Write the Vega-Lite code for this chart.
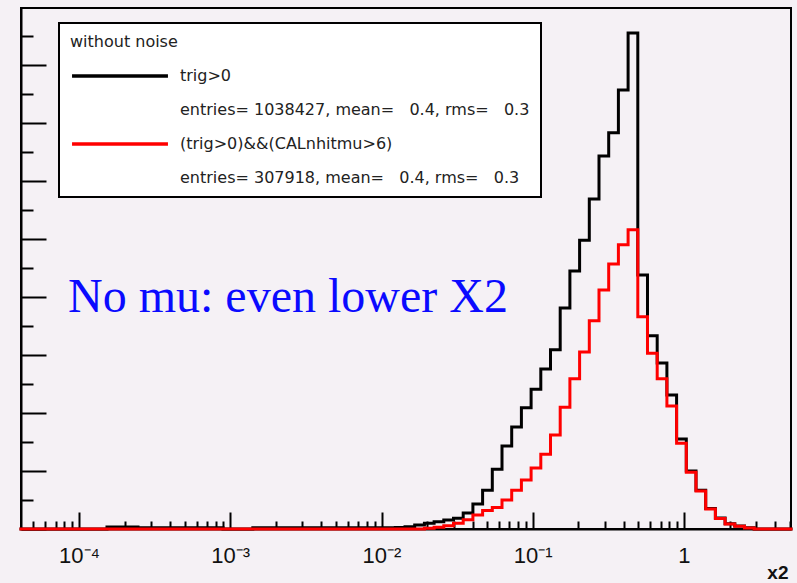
{
  "$schema": "https://vega.github.io/schema/vega-lite/v6.json",
  "width": 770,
  "height": 521,
  "autosize": "none",
  "padding": {"left": 21, "top": 8, "right": 6, "bottom": 54},
  "background": "#f5f1f5",
  "config": {
    "view": {"stroke": "#000000", "strokeWidth": 2, "fill": "#f5f1f5"},
    "axisX": {
      "values": [0.00005, 0.00006, 0.00007, 0.00008, 0.00009, 0.0001, 0.0002, 0.0003, 0.0004, 0.0005, 0.0006, 0.0007, 0.0008, 0.0009, 0.001, 0.002, 0.003, 0.004, 0.005, 0.006, 0.007, 0.008, 0.009, 0.01, 0.02, 0.03, 0.04, 0.05, 0.06, 0.07, 0.08, 0.09, 0.1, 0.2, 0.3, 0.4, 0.5, 0.6, 0.7, 0.8, 0.9, 1, 2, 3, 4, 5],
      "tickWidth": 2,
      "tickColor": "#000000",
      "domainColor": "#000000",
      "domainWidth": 2,
      "grid": false,
      "labelFont": "Liberation Sans",
      "labelFontSize": 22,
      "labelColor": "#111111",
      "labelPadding": 33,
      "labelFlush": false,
      "labelOverlap": false,
      "titleFont": "Liberation Sans",
      "titleFontSize": 19,
      "titleFontWeight": "bold",
      "titleColor": "#111111",
      "titleAnchor": "end",
      "titleAlign": "right",
      "titleBaseline": "alphabetic",
      "titleX": 767,
      "titleY": 49
    },
    "axisY": {
      "values": [0, 2000, 4000, 6000, 8000, 10000, 12000, 14000, 16000, 18000, 20000, 22000, 24000, 26000, 28000, 30000, 32000, 34000, 36000, 38000, 40000, 42000, 44000, 46000, 48000, 50000, 52000, 54000, 56000, 58000, 60000, 62000, 64000, 66000, 68000, 70000, 72000, 74000, 76000, 78000, 80000, 82000, 84000, 86000, 88000],
      "labels": false,
      "tickWidth": 2,
      "tickColor": "#000000",
      "domainColor": "#000000",
      "domainWidth": 2,
      "grid": false
    }
  },
  "datasets": {
    "hist": [
      {"s": "trig>0", "x": 4.135e-5, "n": 0},
      {"s": "trig>0", "x": 1.531e-4, "n": 350},
      {"s": "trig>0", "x": 2.455e-4, "n": 200},
      {"s": "trig>0", "x": 8.95e-4, "n": 0},
      {"s": "trig>0", "x": 1.41e-3, "n": 200},
      {"s": "trig>0", "x": 0.012338, "n": 260},
      {"s": "trig>0", "x": 0.014301, "n": 400},
      {"s": "trig>0", "x": 0.016577, "n": 690},
      {"s": "trig>0", "x": 0.019216, "n": 980},
      {"s": "trig>0", "x": 0.022274, "n": 1260},
      {"s": "trig>0", "x": 0.025817, "n": 1550},
      {"s": "trig>0", "x": 0.029926, "n": 1840},
      {"s": "trig>0", "x": 0.034688, "n": 2760},
      {"s": "trig>0", "x": 0.04021, "n": 4300},
      {"s": "trig>0", "x": 0.046609, "n": 6700},
      {"s": "trig>0", "x": 0.054023, "n": 10300},
      {"s": "trig>0", "x": 0.062621, "n": 14300},
      {"s": "trig>0", "x": 0.072586, "n": 17600},
      {"s": "trig>0", "x": 0.084138, "n": 20900},
      {"s": "trig>0", "x": 0.097522, "n": 24100},
      {"s": "trig>0", "x": 0.11304, "n": 27600},
      {"s": "trig>0", "x": 0.13103, "n": 30900},
      {"s": "trig>0", "x": 0.15188, "n": 38100},
      {"s": "trig>0", "x": 0.17604, "n": 44500},
      {"s": "trig>0", "x": 0.20407, "n": 49800},
      {"s": "trig>0", "x": 0.23653, "n": 56900},
      {"s": "trig>0", "x": 0.27417, "n": 64300},
      {"s": "trig>0", "x": 0.31781, "n": 68300},
      {"s": "trig>0", "x": 0.36838, "n": 75700},
      {"s": "trig>0", "x": 0.42701, "n": 85500},
      {"s": "trig>0", "x": 0.49497, "n": 43800},
      {"s": "trig>0", "x": 0.57366, "n": 33300},
      {"s": "trig>0", "x": 0.66497, "n": 28600},
      {"s": "trig>0", "x": 0.77087, "n": 23100},
      {"s": "trig>0", "x": 0.89347, "n": 15500},
      {"s": "trig>0", "x": 1.0356, "n": 10000},
      {"s": "trig>0", "x": 1.2004, "n": 6700},
      {"s": "trig>0", "x": 1.3915, "n": 3550},
      {"s": "trig>0", "x": 1.6129, "n": 1900},
      {"s": "trig>0", "x": 1.8696, "n": 900},
      {"s": "trig>0", "x": 2.1671, "n": 500},
      {"s": "trig>0", "x": 2.5119, "n": 200},
      {"s": "trig>0", "x": 2.9116, "n": 0},
      {"s": "trig>0", "x": 5.099, "n": 0},
      {"s": "(trig>0)&&(CALnhitmu>6)", "x": 4.135e-5, "n": 0},
      {"s": "(trig>0)&&(CALnhitmu>6)", "x": 0.019216, "n": 150},
      {"s": "(trig>0)&&(CALnhitmu>6)", "x": 0.022274, "n": 300},
      {"s": "(trig>0)&&(CALnhitmu>6)", "x": 0.025817, "n": 550},
      {"s": "(trig>0)&&(CALnhitmu>6)", "x": 0.029926, "n": 1000},
      {"s": "(trig>0)&&(CALnhitmu>6)", "x": 0.034688, "n": 1600},
      {"s": "(trig>0)&&(CALnhitmu>6)", "x": 0.04021, "n": 2400},
      {"s": "(trig>0)&&(CALnhitmu>6)", "x": 0.046609, "n": 3200},
      {"s": "(trig>0)&&(CALnhitmu>6)", "x": 0.054023, "n": 3700},
      {"s": "(trig>0)&&(CALnhitmu>6)", "x": 0.062621, "n": 5000},
      {"s": "(trig>0)&&(CALnhitmu>6)", "x": 0.072586, "n": 6700},
      {"s": "(trig>0)&&(CALnhitmu>6)", "x": 0.084138, "n": 8450},
      {"s": "(trig>0)&&(CALnhitmu>6)", "x": 0.097522, "n": 10500},
      {"s": "(trig>0)&&(CALnhitmu>6)", "x": 0.11304, "n": 12900},
      {"s": "(trig>0)&&(CALnhitmu>6)", "x": 0.13103, "n": 16200},
      {"s": "(trig>0)&&(CALnhitmu>6)", "x": 0.15188, "n": 21000},
      {"s": "(trig>0)&&(CALnhitmu>6)", "x": 0.17604, "n": 25900},
      {"s": "(trig>0)&&(CALnhitmu>6)", "x": 0.20407, "n": 30500},
      {"s": "(trig>0)&&(CALnhitmu>6)", "x": 0.23653, "n": 35900},
      {"s": "(trig>0)&&(CALnhitmu>6)", "x": 0.27417, "n": 41200},
      {"s": "(trig>0)&&(CALnhitmu>6)", "x": 0.31781, "n": 45700},
      {"s": "(trig>0)&&(CALnhitmu>6)", "x": 0.36838, "n": 49000},
      {"s": "(trig>0)&&(CALnhitmu>6)", "x": 0.42701, "n": 51600},
      {"s": "(trig>0)&&(CALnhitmu>6)", "x": 0.49497, "n": 36600},
      {"s": "(trig>0)&&(CALnhitmu>6)", "x": 0.57366, "n": 30300},
      {"s": "(trig>0)&&(CALnhitmu>6)", "x": 0.66497, "n": 25900},
      {"s": "(trig>0)&&(CALnhitmu>6)", "x": 0.77087, "n": 21200},
      {"s": "(trig>0)&&(CALnhitmu>6)", "x": 0.89347, "n": 14800},
      {"s": "(trig>0)&&(CALnhitmu>6)", "x": 1.0356, "n": 9800},
      {"s": "(trig>0)&&(CALnhitmu>6)", "x": 1.2004, "n": 6550},
      {"s": "(trig>0)&&(CALnhitmu>6)", "x": 1.3915, "n": 3450},
      {"s": "(trig>0)&&(CALnhitmu>6)", "x": 1.6129, "n": 1800},
      {"s": "(trig>0)&&(CALnhitmu>6)", "x": 1.8696, "n": 860},
      {"s": "(trig>0)&&(CALnhitmu>6)", "x": 2.1671, "n": 480},
      {"s": "(trig>0)&&(CALnhitmu>6)", "x": 2.5119, "n": 170},
      {"s": "(trig>0)&&(CALnhitmu>6)", "x": 2.9116, "n": 0},
      {"s": "(trig>0)&&(CALnhitmu>6)", "x": 5.099, "n": 0}
    ],
    "note": [{"label": "No mu: even lower X2"}]
  },
  "layer": [
    {
      "data": {"name": "hist"},
      "transform": [{"filter": "datum.s == 'trig>0'"}],
      "mark": {"type": "line", "interpolate": "step-after", "strokeWidth": 3, "strokeJoin": "miter", "strokeCap": "square"},
      "encoding": {
        "x": {
          "field": "x",
          "type": "quantitative",
          "scale": {"type": "log", "domain": [4.135e-5, 5.099], "nice": false},
          "axis": {
            "title": "x2",
            "labelExpr": "datum.value == 0.0001 ? '10⁻⁴' : datum.value == 0.001 ? '10⁻³' : datum.value == 0.01 ? '10⁻²' : datum.value == 0.1 ? '10⁻¹' : datum.value == 1 ? '1' : ''",
            "tickSize": {"condition": {"test": "datum.value == 0.0001 || datum.value == 0.001 || datum.value == 0.01 || datum.value == 0.1 || datum.value == 1", "value": -17}, "value": -8}
          }
        },
        "y": {
          "field": "n",
          "type": "quantitative",
          "scale": {"domain": [0, 89830], "nice": false, "zero": false},
          "axis": {
            "title": null,
            "tickSize": {"condition": {"test": "datum.value % 10000 == 0", "value": -25}, "value": -12}
          }
        },
        "color": {
          "field": "s",
          "type": "nominal",
          "scale": {
            "domain": ["trig>0", "entries= 1038427, mean=\u00a0\u00a0 0.4, rms=\u00a0\u00a0 0.3", "(trig>0)&&(CALnhitmu>6)", "entries= 307918, mean=\u00a0\u00a0 0.4, rms=\u00a0\u00a0 0.3"],
            "range": ["#000000", "transparent", "#ff0000", "transparent"]
          },
          "legend": {
            "orient": "none",
            "legendX": 38,
            "legendY": 15,
            "direction": "vertical",
            "title": "without noise",
            "titleFont": "DejaVu Sans",
            "titleFontSize": 16,
            "titleFontWeight": "normal",
            "titleColor": "#222222",
            "titlePadding": 18,
            "titleAnchor": "start",
            "labelFont": "DejaVu Sans",
            "labelFontSize": 16,
            "labelColor": "#222222",
            "labelLimit": 600,
            "labelOffset": 52,
            "symbolType": "M-10,0L10,0",
            "symbolSize": 92,
            "symbolStrokeWidth": 3.5,
            "symbolOffset": 42,
            "rowPadding": 18,
            "padding": 11,
            "fillColor": "#ffffff",
            "strokeColor": "#000000",
            "encode": {"legend": {"update": {"strokeWidth": {"value": 2}}}}
          }
        }
      }
    },
    {
      "data": {"name": "hist"},
      "transform": [{"filter": "datum.s != 'trig>0'"}],
      "mark": {"type": "line", "interpolate": "step-after", "strokeWidth": 3, "strokeJoin": "miter", "strokeCap": "square"},
      "encoding": {
        "x": {
          "field": "x",
          "type": "quantitative",
          "axis": {
            "title": "x2",
            "labelExpr": "datum.value == 0.0001 ? '10⁻⁴' : datum.value == 0.001 ? '10⁻³' : datum.value == 0.01 ? '10⁻²' : datum.value == 0.1 ? '10⁻¹' : datum.value == 1 ? '1' : ''",
            "tickSize": {"condition": {"test": "datum.value == 0.0001 || datum.value == 0.001 || datum.value == 0.01 || datum.value == 0.1 || datum.value == 1", "value": -17}, "value": -8}
          }
        },
        "y": {
          "field": "n",
          "type": "quantitative",
          "axis": {
            "title": null,
            "tickSize": {"condition": {"test": "datum.value % 10000 == 0", "value": -25}, "value": -12}
          }
        },
        "color": {"field": "s", "type": "nominal"}
      }
    },
    {
      "data": {"name": "note"},
      "mark": {"type": "text", "align": "left", "baseline": "alphabetic", "font": "Liberation Serif", "fontSize": 48, "fill": "#0a0aff"},
      "encoding": {
        "x": {
          "datum": 8.46e-5,
          "type": "quantitative",
          "axis": {
            "title": "x2",
            "labelExpr": "datum.value == 0.0001 ? '10⁻⁴' : datum.value == 0.001 ? '10⁻³' : datum.value == 0.01 ? '10⁻²' : datum.value == 0.1 ? '10⁻¹' : datum.value == 1 ? '1' : ''",
            "tickSize": {"condition": {"test": "datum.value == 0.0001 || datum.value == 0.001 || datum.value == 0.01 || datum.value == 0.1 || datum.value == 1", "value": -17}, "value": -8}
          }
        },
        "y": {
          "datum": 37400,
          "type": "quantitative",
          "axis": {
            "title": null,
            "tickSize": {"condition": {"test": "datum.value % 10000 == 0", "value": -25}, "value": -12}
          }
        },
        "text": {"field": "label", "type": "nominal"}
      }
    }
  ]
}
